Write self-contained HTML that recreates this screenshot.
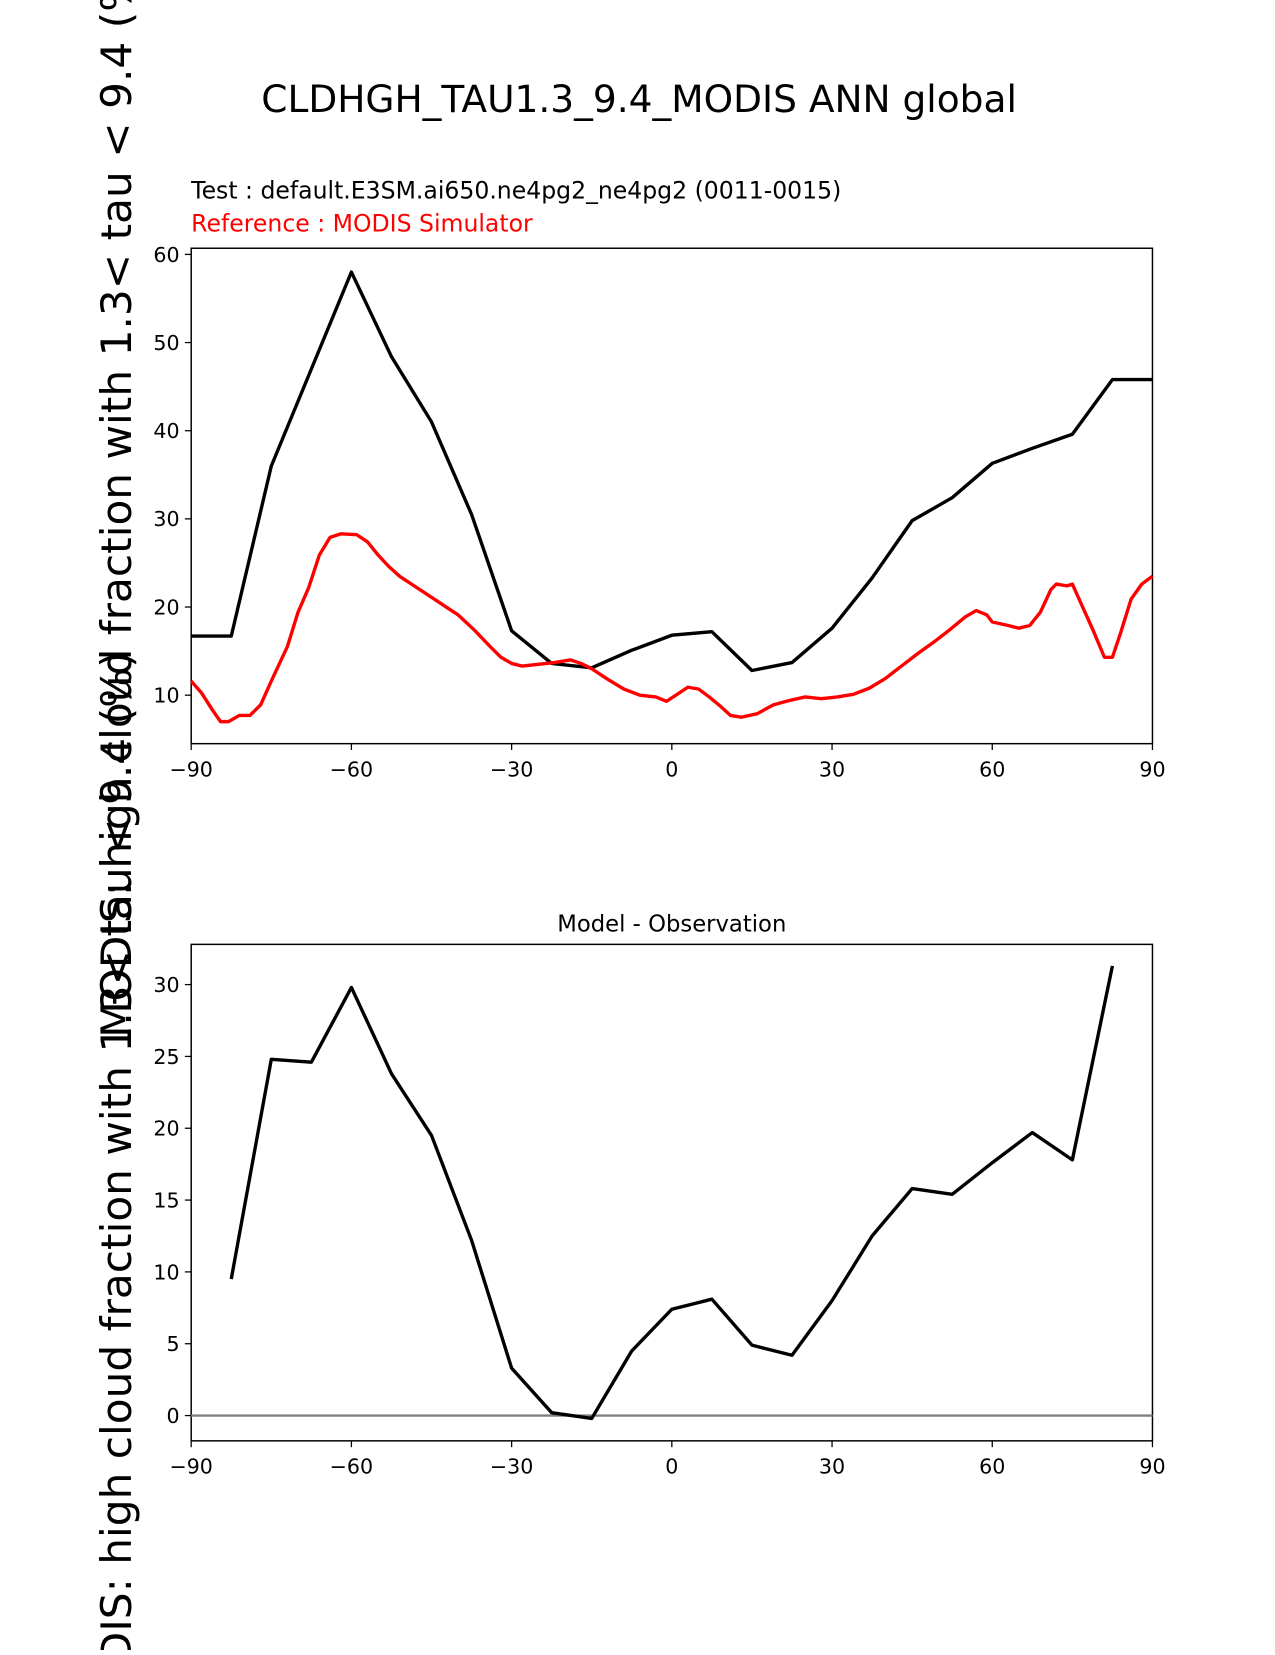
<!DOCTYPE html>
<html><head><meta charset="utf-8"><style>
html,body{margin:0;padding:0;background:#fff;}
svg text{font-family:"DejaVu Sans","Liberation Sans",sans-serif;}
</style></head><body>
<svg id="fig" width="1275" height="1650" viewBox="0 0 1207 1562" xmlns="http://www.w3.org/2000/svg">
<text x="605" y="106" font-size="35.5" text-anchor="middle">CLDHGH_TAU1.3_9.4_MODIS ANN global</text>
<text x="181" y="188" font-size="22.3">Test : default.E3SM.ai650.ne4pg2_ne4pg2 (0011-0015)</text>
<text x="181" y="219" font-size="22.3" fill="#ff0000">Reference : MODIS Simulator</text>
<text x="636" y="882" font-size="21.5" text-anchor="middle">Model - Observation</text>
<g id="top"></g>
<g id="bot"></g>
<text transform="translate(124,470) rotate(-90)" font-size="40" text-anchor="middle">MODIS: high cloud fraction with 1.3&lt; tau &lt; 9.4 (%)</text>
<text transform="translate(124,1129) rotate(-90)" font-size="40" text-anchor="middle">MODIS: high cloud fraction with 1.3&lt; tau &lt; 9.4 (%)</text>
</svg>
<script>
const testLat=[-90,-82.5,-75,-60,-52.5,-45,-37.5,-30,-22.5,-15,-7.5,0,7.5,15,22.5,30,37.5,45,52.5,60,67.5,75,82.5,90];
const testVal=[16.7,16.7,36,58,48.4,41,30.5,17.3,13.6,13.1,15.1,16.8,17.2,12.8,13.7,17.6,23.3,29.8,32.4,36.3,38,39.6,45.8,45.8];
const refLat=[-90,-88,-86,-84.5,-83,-81,-79,-77,-75,-72,-70,-68,-66,-64,-62,-59,-57,-55,-53,-51,-48,-45,-42,-40,-37,-34,-32,-30,-28,-25,-22,-19,-17,-15,-12,-9,-6,-3,-1,1,3,5,7,9,11,13,16,19,22,25,28,31,34,37,40,43,46,49,52,55,57,59,60,63,65,67,69,71,72,74,75,77,79,81,82.5,84,86,88,90];
const refVal=[11.6,10.2,8.3,7.0,7.0,7.7,7.7,8.9,11.6,15.5,19.4,22.2,25.9,27.9,28.3,28.2,27.4,25.9,24.6,23.5,22.3,21.1,19.9,19.1,17.4,15.5,14.3,13.6,13.3,13.5,13.7,14.0,13.6,13.0,11.8,10.7,10.0,9.8,9.3,10.1,10.9,10.7,9.8,8.8,7.7,7.5,7.9,8.9,9.4,9.8,9.6,9.8,10.1,10.8,11.9,13.3,14.7,16.0,17.4,18.9,19.6,19.1,18.3,17.9,17.6,17.9,19.4,22.0,22.6,22.4,22.6,19.9,17.2,14.3,14.3,17.0,20.9,22.6,23.5];
const diffLat=[-82.5,-75,-67.5,-60,-52.5,-45,-37.5,-30,-22.5,-15,-7.5,0,7.5,15,22.5,30,37.5,45,52.5,60,67.5,75,82.5];
const diffVal=[9.5,24.8,24.6,29.8,23.8,19.5,12.2,3.3,0.2,-0.2,4.5,7.4,8.1,4.9,4.2,8,12.5,15.8,15.4,17.6,19.7,17.8,31.3];
const xTicks=[-90,-60,-30,0,30,60,90];
const topYTicks=[10,20,30,40,50,60];
const botYTicks=[0,5,10,15,20,25,30];
const NS='http://www.w3.org/2000/svg';
function mk(tag,attrs,parent,txt){const e=document.createElementNS(NS,tag);for(const k in attrs)e.setAttribute(k,attrs[k]);if(txt!==undefined)e.textContent=txt;parent.appendChild(e);return e;}
const x=v=>181+(v+90)*(910/180);
function axes(g,top,bot,ymin,ymax,yt,name){
  const y=v=>bot-(v-ymin)/(ymax-ymin)*(bot-top);
  const r=mk('rect',{x:181,y:top,width:910,height:bot-top,fill:'none',stroke:'#000','stroke-width':1.4},g);
  
  
  xTicks.forEach(t=>{mk('line',{x1:x(t),x2:x(t),y1:bot,y2:bot+6,stroke:'#000','stroke-width':1.2},g);
    const tx=mk('text',{x:x(t),y:bot+31,'font-size':19.5,'text-anchor':'middle'},g,t<0?'\u2212'+(-t):String(t));
    
    });
  yt.forEach(t=>{mk('line',{x1:175,x2:181,y1:y(t),y2:y(t),stroke:'#000','stroke-width':1.2},g);
    const tx=mk('text',{x:170,y:y(t)+7,'font-size':19.5,'text-anchor':'end'},g,String(t));
    
    });
  return y;
}
function line(g,xs,ys,y,color,name){
  const p=mk('polyline',{points:xs.map((v,i)=>x(v)+','+y(ys[i])).join(' '),fill:'none',stroke:color,'stroke-width':3.2,'stroke-linejoin':'round'},g);
  
  
}
const gt=document.getElementById('top');
const yT=axes(gt,235,704,4.5,60.7,topYTicks,'top');
line(gt,testLat,testVal,yT,'#000','test-line');
line(gt,refLat,refVal,yT,'#ff0000','reference-line');
const gb=document.getElementById('bot');
const yB=axes(gb,894,1364,-1.76,32.8,botYTicks,'diff');
const z=mk('line',{x1:181,x2:1091,y1:yB(0),y2:yB(0),stroke:'#808080','stroke-width':2.2},gb);


line(gb,diffLat,diffVal,yB,'#000','diff-line');
</script>
</body></html>
